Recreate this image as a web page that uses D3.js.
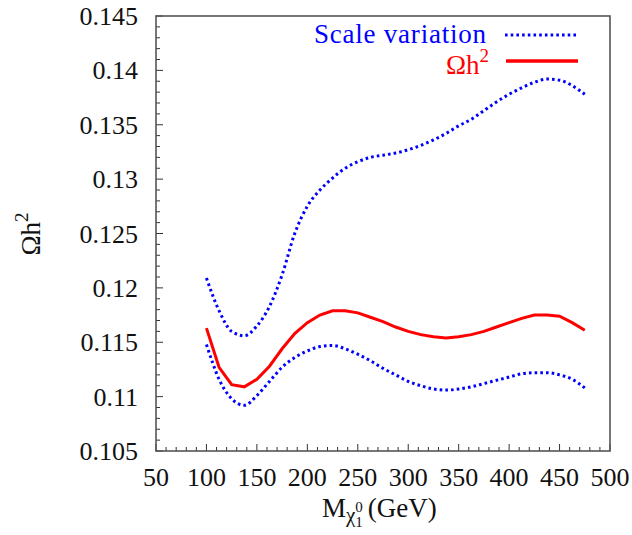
<!DOCTYPE html>
<html>
<head>
<meta charset="utf-8">
<script src="https://cdn.jsdelivr.net/npm/d3@7"></script>
<style>
  body { margin: 0; background: #fff; }
  text { font-family: "Liberation Serif", "Times New Roman", Times; }
</style>
</head>
<body>
<svg id="chart" width="632" height="535"></svg>
<script>
// Valores (masa en GeV)
const masses = [100, 112.5, 125, 137.5, 150, 162.5, 175, 187.5, 200, 212.5, 225, 237.5, 250,
  262.5, 275, 287.5, 300, 312.5, 325, 337.5, 350, 362.5, 375, 387.5, 400, 412.5, 425, 437.5,
  450, 462.5, 475];

const omegaCentral = [0.1163, 0.1127, 0.1111, 0.1109, 0.1116, 0.1128, 0.1144, 0.1158, 0.1168,
  0.1175, 0.1179, 0.1179, 0.1177, 0.1173, 0.1169, 0.1164, 0.1160, 0.1157, 0.1155, 0.1154,
  0.1155, 0.1157, 0.1160, 0.1164, 0.1168, 0.1172, 0.1175, 0.1175, 0.1174, 0.1168, 0.1161];

const scaleUpper = [0.1209, 0.1179, 0.1160, 0.1156, 0.1165, 0.1183, 0.1212, 0.1250, 0.1275,
  0.1290, 0.1301, 0.1310, 0.1316, 0.1320, 0.1322, 0.1324, 0.1327, 0.1331, 0.1336, 0.1342,
  0.1349, 0.1355, 0.1363, 0.1371, 0.1378, 0.1384, 0.1389, 0.1392, 0.1391, 0.1386, 0.1378];

const scaleLower = [0.1148, 0.1116, 0.1098, 0.1092, 0.1101, 0.1114, 0.1127, 0.1136, 0.1142,
  0.1146, 0.1147, 0.1144, 0.1139, 0.1133, 0.1126, 0.1120, 0.1114, 0.1110, 0.1107, 0.1106,
  0.1107, 0.1109, 0.1112, 0.1115, 0.1118, 0.1121, 0.1122, 0.1122, 0.1120, 0.1116, 0.1108];

const xTicks = [50, 100, 150, 200, 250, 300, 350, 400, 450, 500];
const yTicks = [0.105, 0.11, 0.115, 0.12, 0.125, 0.13, 0.135, 0.14, 0.145];

const FONT = "Liberation Serif";
const margin = { top: 16, right: 22, bottom: 84, left: 156 };
const W = 632, H = 535;
const w = W - margin.left - margin.right;
const h = H - margin.top - margin.bottom;

const svg = d3.select("#chart");
const g = svg.append("g").attr("transform", `translate(${margin.left},${margin.top})`);

const x = d3.scaleLinear().domain([50, 500]).range([0, w]);
const y = d3.scaleLinear().domain([0.105, 0.145]).range([h, 0]);

// Ticks menores hacia dentro
const xMinor = d3.range(50, 501, 10);
const yMinor = d3.range(0, 41).map(i => 0.105 + i * 0.001);

g.selectAll(".xminor").data(xMinor).enter().append("line")
  .attr("x1", d => x(d)).attr("x2", d => x(d))
  .attr("y1", h).attr("y2", d => h - (xTicks.some(t => Math.abs(t - d) < 1e-9) ? 7 : 4))
  .attr("stroke", "#333").attr("stroke-width", 1);

g.selectAll(".yminor").data(yMinor).enter().append("line")
  .attr("y1", d => y(d)).attr("y2", d => y(d))
  .attr("x1", 0).attr("x2", d => (yTicks.some(t => Math.abs(t - d) < 1e-9) ? 7 : 4))
  .attr("stroke", "#333").attr("stroke-width", 1);

// Marco
g.append("rect").attr("x", 0).attr("y", 0).attr("width", w).attr("height", h)
  .attr("fill", "none").attr("stroke", "#555").attr("stroke-width", 1.6);

// Etiquetas de los ejes
g.selectAll(".xlab").data(xTicks).enter().append("text")
  .attr("font-family", FONT)
  .attr("x", d => x(d)).attr("y", h + 35)
  .attr("text-anchor", "middle").attr("font-size", 26).attr("fill", "#111")
  .text(d => d);

g.selectAll(".ylab").data(yTicks).enter().append("text")
  .attr("font-family", FONT)
  .attr("x", -18).attr("y", d => y(d) + 9)
  .attr("text-anchor", "end").attr("font-size", 26).attr("fill", "#111")
  .text(d => d3.format("")(+d.toFixed(3)));

// Curvas
const line = d3.line()
  .x((d, i) => x(masses[i]))
  .y(d => y(d));

g.append("path").datum(scaleUpper).attr("d", line.curve(d3.curveMonotoneX))
  .attr("fill", "none").attr("stroke", "#0000ff").attr("stroke-width", 3)
  .attr("stroke-dasharray", "2.6,3.1");
g.append("path").datum(scaleLower).attr("d", line.curve(d3.curveMonotoneX))
  .attr("fill", "none").attr("stroke", "#0000ff").attr("stroke-width", 3)
  .attr("stroke-dasharray", "2.6,3.1");
g.append("path").datum(omegaCentral).attr("d", line.curve(d3.curveLinear))
  .attr("fill", "none").attr("stroke", "#ff0000").attr("stroke-width", 3);

// Leyenda
svg.append("text").attr("font-family", FONT)
  .attr("x", 314).attr("y", 43)
  .attr("font-size", 27).attr("fill", "#0000ff")
  .attr("textLength", 172).attr("lengthAdjust", "spacing")
  .text("Scale variation");
svg.append("line").attr("x1", 505).attr("x2", 578).attr("y1", 35).attr("y2", 35)
  .attr("stroke", "#0000ff").attr("stroke-width", 3).attr("stroke-dasharray", "2.6,3.1");

const leg2 = svg.append("text").attr("font-family", FONT)
  .attr("x", 489).attr("y", 74).attr("text-anchor", "end")
  .attr("font-size", 27).attr("fill", "#ff0000");
leg2.append("tspan").text("Ωh");
leg2.append("tspan").attr("font-size", 19).attr("dy", -12).text("2");
svg.append("line").attr("x1", 506).attr("x2", 578).attr("y1", 61).attr("y2", 61)
  .attr("stroke", "#ff0000").attr("stroke-width", 3.5);

// Titulo eje X
const xt = svg.append("text").attr("font-family", FONT)
  .attr("x", 322).attr("y", 517)
  .attr("font-size", 27).attr("fill", "#111");
xt.append("tspan").text("M");
xt.append("tspan").attr("font-size", 21).attr("dy", 5).text("χ");
xt.append("tspan").attr("font-size", 15).attr("dy", 5).text("1");
xt.append("tspan").attr("font-size", 15).attr("dx", -7.5).attr("dy", -15).text("0");
xt.append("tspan").attr("dy", 5).attr("dx", 5).text("(GeV)");

// Titulo eje Y
const yt = svg.append("text").attr("font-family", FONT)
  .attr("transform", "translate(40,234) rotate(-90)")
  .attr("text-anchor", "middle").attr("font-size", 27).attr("fill", "#111");
yt.append("tspan").text("Ωh");
yt.append("tspan").attr("font-size", 19).attr("dy", -12).text("2");
</script>
</body>
</html>
